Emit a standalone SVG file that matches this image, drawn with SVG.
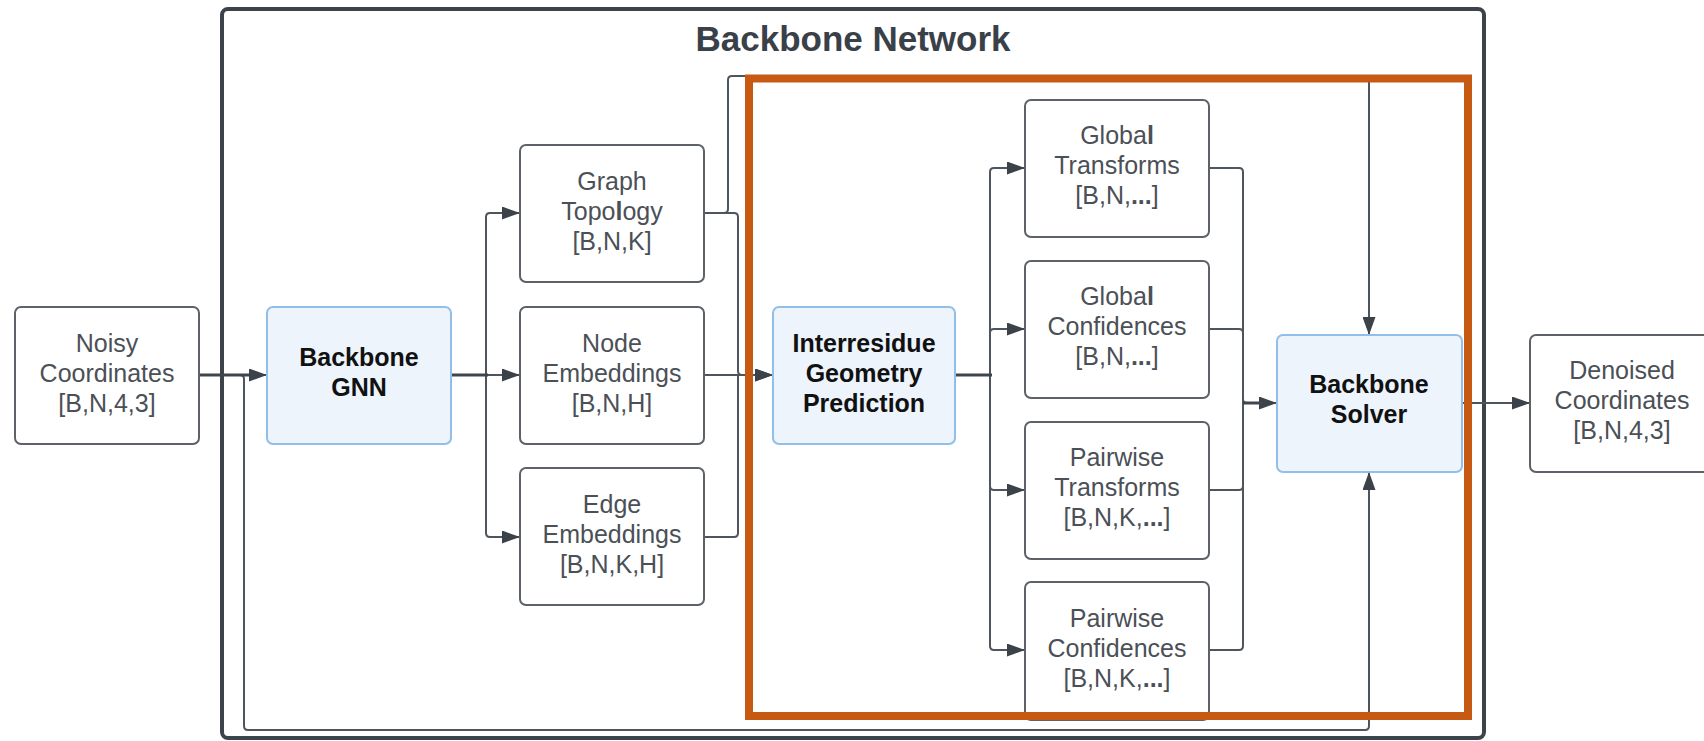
<svg xmlns="http://www.w3.org/2000/svg" width="1704" height="741" viewBox="0 0 1704 741">
  <defs>
    <marker id="arrow" viewBox="0 0 18 13" refX="18" refY="6.5" markerWidth="18" markerHeight="13" markerUnits="userSpaceOnUse" orient="auto">
      <path d="M0,0 L18,6.5 L0,13 Z" fill="#3c424a"/>
    </marker>
    <style>
      .frame { fill: none; stroke: #3d434a; stroke-width: 4; }
      .box { fill: #ffffff; stroke: #5d6268; stroke-width: 2; }
      .blue { fill: #edf4fc; stroke: #92bfe9; stroke-width: 2; }
      .lbl { font-family: "Liberation Sans", Arial, sans-serif; font-size: 25px; fill: #4b5056; text-anchor: middle; }
      .bold { font-family: "Liberation Sans", Arial, sans-serif; font-size: 25px; font-weight: bold; fill: #111111; text-anchor: middle; }
      .title { font-family: "Liberation Sans", Arial, sans-serif; font-size: 35px; font-weight: bold; fill: #3a4048; text-anchor: middle; }
      .b { font-weight: bold; }
      .wire { fill: none; stroke: #4f555c; stroke-width: 2; }
      .trunk { fill: none; stroke: #3f454c; stroke-width: 3; }
      .hl { fill: none; stroke: #c65a12; stroke-width: 8; }
    </style>
  </defs>
  <rect width="1704" height="741" fill="#ffffff"/>

  <!-- enclosing network frame -->
  <g id="backbone-network">
    <rect class="frame" x="222" y="9" width="1262" height="729" rx="6"/>
    <text class="title" x="853" y="51">Backbone Network</text>
  </g>

  <!-- connectors -->
  <g id="connectors">
    <!-- input to GNN, and skip path to solver -->
    <path class="wire" d="M199,375 H240 Q244,375 244,379 V726 Q244,730 248,730 H1365 Q1369,730 1369,726 V472" marker-end="url(#arrow)"/>
    <path class="trunk" d="M199,375 H252"/>
    <path class="wire" d="M250,375 H267" marker-end="url(#arrow)"/>
    <!-- GNN fan-out -->
    <path class="wire" d="M451,375 H486 V217 Q486,213 490,213 H520" marker-end="url(#arrow)"/>
    <path class="wire" d="M451,375 H520" marker-end="url(#arrow)"/>
    <path class="wire" d="M486,375 V533 Q486,537 490,537 H520" marker-end="url(#arrow)"/>
    <path class="trunk" d="M451,375 H488"/>
    <!-- embeddings into geometry prediction -->
    <path class="wire" d="M704,213 H724 Q728,213 728,209 V80 Q728,76 732,76 H1365 Q1369,76 1369,80 V335" marker-end="url(#arrow)"/>
    <path class="wire" d="M704,213 H734 Q738,213 738,217 V371 Q738,375 742,375 H773" marker-end="url(#arrow)"/>
    <path class="wire" d="M704,375 H773" marker-end="url(#arrow)"/>
    <path class="wire" d="M704,537 H734 Q738,537 738,533 V375"/>
    <!-- geometry prediction fan-out -->
    <path class="wire" d="M955,375 H990 V172 Q990,168 994,168 H1025" marker-end="url(#arrow)"/>
    <path class="wire" d="M990,375 V333 Q990,329 994,329 H1025" marker-end="url(#arrow)"/>
    <path class="wire" d="M990,375 V486 Q990,490 994,490 H1025" marker-end="url(#arrow)"/>
    <path class="wire" d="M990,375 V646 Q990,650 994,650 H1025" marker-end="url(#arrow)"/>
    <path class="trunk" d="M955,375 H992"/>
    <!-- outputs gathered into solver -->
    <path class="wire" d="M1209,168 H1239 Q1243,168 1243,172 V399 Q1243,403 1247,403 H1277" marker-end="url(#arrow)"/>
    <path class="wire" d="M1209,329 H1239 Q1243,329 1243,333 V403"/>
    <path class="wire" d="M1209,490 H1239 Q1243,490 1243,486 V403"/>
    <path class="wire" d="M1209,650 H1239 Q1243,650 1243,646 V403"/>
    <path class="trunk" d="M1243,403 H1262"/>
    <!-- solver output -->
    <path class="wire" d="M1462,403 H1530" marker-end="url(#arrow)"/>
  </g>

  <g id="noisy-coordinates">
    <rect class="box" x="15" y="307" width="184" height="137" rx="6"/>
    <text class="lbl" x="107" y="352">Noisy</text>
    <text class="lbl" x="107" y="382">Coordinates</text>
    <text class="lbl" x="107" y="412">[B,N,4,3]</text>
  </g>

  <g id="backbone-gnn">
    <rect class="blue" x="267" y="307" width="184" height="137" rx="6"/>
    <text class="bold" x="359" y="366">Backbone</text>
    <text class="bold" x="359" y="396">GNN</text>
  </g>

  <g id="graph-topology">
    <rect class="box" x="520" y="145" width="184" height="137" rx="6"/>
    <text class="lbl" x="612" y="190">Graph</text>
    <text class="lbl" x="612" y="220">Topo<tspan class="b">l</tspan>ogy</text>
    <text class="lbl" x="612" y="250">[B,N,K]</text>
  </g>

  <g id="node-embeddings">
    <rect class="box" x="520" y="307" width="184" height="137" rx="6"/>
    <text class="lbl" x="612" y="352">Node</text>
    <text class="lbl" x="612" y="382">Embeddings</text>
    <text class="lbl" x="612" y="412">[B,N,H]</text>
  </g>

  <g id="edge-embeddings">
    <rect class="box" x="520" y="468" width="184" height="137" rx="6"/>
    <text class="lbl" x="612" y="513">Edge</text>
    <text class="lbl" x="612" y="543">Embeddings</text>
    <text class="lbl" x="612" y="573">[B,N,K,H]</text>
  </g>

  <g id="interresidue-geometry-prediction">
    <rect class="blue" x="773" y="307" width="182" height="137" rx="6"/>
    <text class="bold" x="864" y="352">Interresidue</text>
    <text class="bold" x="864" y="382">Geometry</text>
    <text class="bold" x="864" y="412">Prediction</text>
  </g>

  <g id="global-transforms">
    <rect class="box" x="1025" y="100" width="184" height="137" rx="6"/>
    <text class="lbl" x="1117" y="144">Globa<tspan class="b">l</tspan></text>
    <text class="lbl" x="1117" y="174">Transforms</text>
    <text class="lbl" x="1117" y="204">[B,N,<tspan class="b">...</tspan>]</text>
  </g>

  <g id="global-confidences">
    <rect class="box" x="1025" y="261" width="184" height="137" rx="6"/>
    <text class="lbl" x="1117" y="305">Globa<tspan class="b">l</tspan></text>
    <text class="lbl" x="1117" y="335">Confidences</text>
    <text class="lbl" x="1117" y="365">[B,N,<tspan class="b">...</tspan>]</text>
  </g>

  <g id="pairwise-transforms">
    <rect class="box" x="1025" y="422" width="184" height="137" rx="6"/>
    <text class="lbl" x="1117" y="466">Pairwise</text>
    <text class="lbl" x="1117" y="496">Transforms</text>
    <text class="lbl" x="1117" y="526">[B,N,K,<tspan class="b">...</tspan>]</text>
  </g>

  <g id="pairwise-confidences">
    <rect class="box" x="1025" y="582" width="184" height="138" rx="6"/>
    <text class="lbl" x="1117" y="627">Pairwise</text>
    <text class="lbl" x="1117" y="657">Confidences</text>
    <text class="lbl" x="1117" y="687">[B,N,K,<tspan class="b">...</tspan>]</text>
  </g>

  <g id="backbone-solver">
    <rect class="blue" x="1277" y="335" width="185" height="137" rx="6"/>
    <text class="bold" x="1369" y="393">Backbone</text>
    <text class="bold" x="1369" y="423">Solver</text>
  </g>

  <g id="denoised-coordinates">
    <rect class="box" x="1530" y="335" width="184" height="137" rx="6"/>
    <text class="lbl" x="1622" y="379">Denoised</text>
    <text class="lbl" x="1622" y="409">Coordinates</text>
    <text class="lbl" x="1622" y="439">[B,N,4,3]</text>
  </g>

  <!-- highlighted geometry/solver stage -->
  <g id="highlight">
    <rect class="hl" x="749" y="78.5" width="719" height="637.5"/>
  </g>
</svg>
